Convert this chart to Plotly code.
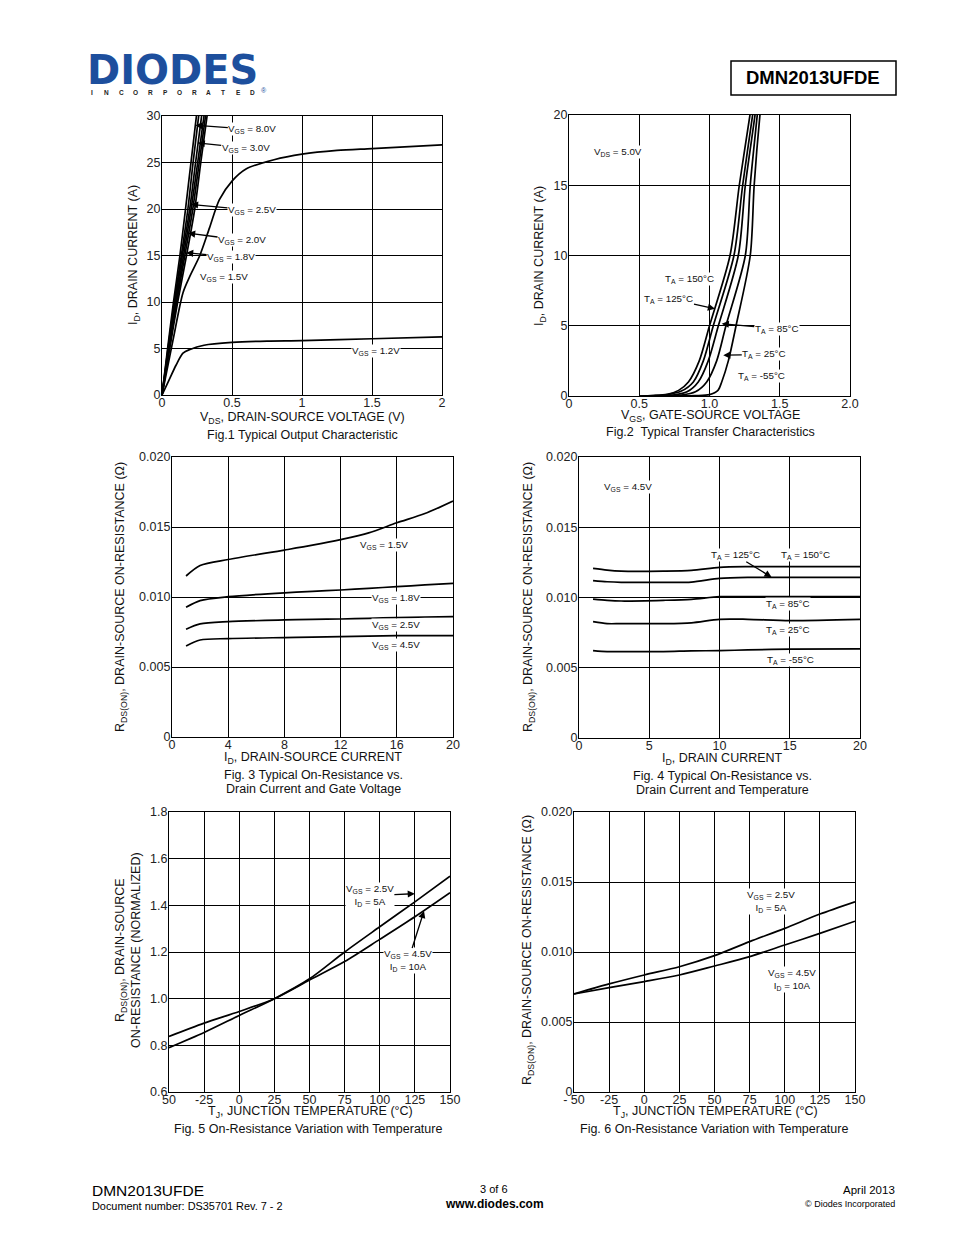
import plotly.graph_objects as go

W, H = 954, 1235
FONT = "Liberation Sans, Arial, sans-serif"
OFF = 8  # page body margin compensation (pixels)

# ---------------- data ----------------
# Fig.1 output characteristic
f1_i_steep = [0, 5, 10, 15, 20, 25, 30]
f1_v_8v0 = [0, 0.040, 0.082, 0.128, 0.168, 0.207, 0.246]
f1_v_4v5 = [0, 0.043, 0.088, 0.138, 0.185, 0.222, 0.262]
f1_v_3v0 = [0, 0.046, 0.093, 0.145, 0.198, 0.240, 0.283]
f1_v_2v5 = [0, 0.049, 0.099, 0.154, 0.208, 0.255, 0.300]
f1_v_2v0 = [0, 0.052, 0.105, 0.163, 0.220, 0.266, 0.311]
f1_v_1v8 = [0, 0.055, 0.112, 0.175, 0.234, 0.277, 0.322]
f1_v_1v5 = [0, 0.08, 0.15, 0.20, 0.27, 0.34, 0.41, 0.50, 0.60, 0.80, 1.00, 1.25, 1.50, 2.00]
f1_i_1v5 = [0, 6.0, 11.0, 12.8, 15.0, 18.0, 21.0, 23.0, 24.3, 25.3, 25.9, 26.3, 26.5, 26.9]
f1_v_1v2 = [0, 0.05, 0.10, 0.15, 0.20, 0.30, 0.50, 0.75, 1.00, 1.50, 2.00]
f1_i_1v2 = [0, 1.6, 3.2, 4.5, 4.9, 5.35, 5.65, 5.8, 5.85, 6.05, 6.25]

# Fig.2 transfer characteristic
f2_v_150 = [0.50, 0.60, 0.70, 0.78, 0.85, 0.927, 1.000, 1.146, 1.212, 1.288, 1.30]
f2_i_150 = [0, 0.03, 0.12, 0.40, 1.0, 2.5, 5, 10, 15, 20, 21]
f2_v_125 = [0.50, 0.60, 0.70, 0.80, 0.885, 0.956, 1.027, 1.174, 1.236, 1.307, 1.32]
f2_i_125 = [0, 0.02, 0.10, 0.35, 1.0, 2.5, 5, 10, 15, 20, 21]
f2_v_85 = [0.55, 0.65, 0.75, 0.84, 0.920, 0.991, 1.063, 1.205, 1.255, 1.324, 1.335]
f2_i_85 = [0, 0.02, 0.08, 0.30, 1.0, 2.5, 5, 10, 15, 20, 21]
f2_v_25 = [0.60, 0.70, 0.80, 0.90, 0.980, 1.051, 1.117, 1.255, 1.290, 1.340, 1.35]
f2_i_25 = [0, 0.02, 0.07, 0.30, 1.0, 2.5, 5, 10, 15, 20, 21]
f2_v_m55 = [0.70, 0.80, 0.90, 1.00, 1.06, 1.087, 1.134, 1.189, 1.290, 1.318, 1.359, 1.37]
f2_i_m55 = [0, 0.01, 0.03, 0.10, 0.40, 1.0, 2.5, 5, 10, 15, 20, 21]

# Fig.3 RDS(on) vs ID and VGS
f3_id = [1, 2, 4, 8, 10, 12, 14, 16, 18, 20]
f3_r_1v5 = [0.01150, 0.01225, 0.01268, 0.01335, 0.01370, 0.01410, 0.01458, 0.01530, 0.01596, 0.01686]
f3_r_1v8 = [0.00926, 0.00974, 0.01002, 0.01030, 0.01040, 0.01050, 0.01062, 0.01074, 0.01086, 0.01097]
f3_r_2v5 = [0.00770, 0.00808, 0.00824, 0.00836, 0.00840, 0.00843, 0.00848, 0.00853, 0.00857, 0.00860]
f3_r_4v5 = [0.00650, 0.00693, 0.00703, 0.00710, 0.00713, 0.00717, 0.00721, 0.00724, 0.00724, 0.00724]

# Fig.4 RDS(on) vs ID and temperature
f4_id = [1, 2, 3, 6, 8, 10, 12, 15, 20]
f4_r_150 = [0.01207, 0.01195, 0.01188, 0.01188, 0.01193, 0.01215, 0.01220, 0.01220, 0.01220]
f4_r_125 = [0.01120, 0.01112, 0.01108, 0.01108, 0.01110, 0.01136, 0.01143, 0.01143, 0.01143]
f4_r_85 = [0.00989, 0.00980, 0.00975, 0.00980, 0.00987, 0.01006, 0.01006, 0.01006, 0.01006]
f4_r_25 = [0.00828, 0.00814, 0.00814, 0.00814, 0.00820, 0.00845, 0.00845, 0.00836, 0.00845]
f4_r_m55 = [0.00622, 0.00615, 0.00615, 0.00615, 0.00620, 0.00622, 0.00627, 0.00632, 0.00634]

# Fig.5 normalized RDS(on) vs TJ
f5_t = [-50, -25, 0, 25, 50, 75, 100, 125, 150]
f5_n_2v5 = [0.790, 0.855, 0.928, 1.000, 1.085, 1.200, 1.308, 1.415, 1.525]
f5_n_4v5 = [0.838, 0.895, 0.945, 1.000, 1.080, 1.159, 1.254, 1.351, 1.454]

# Fig.6 RDS(on) vs TJ
f6_t = [-50, -25, 0, 25, 50, 75, 100, 125, 150]
f6_r_2v5 = [0.00700, 0.00772, 0.00836, 0.00895, 0.00974, 0.01074, 0.01169, 0.01271, 0.01359]
f6_r_4v5 = [0.00700, 0.00746, 0.00789, 0.00836, 0.00900, 0.00967, 0.01050, 0.01133, 0.01220]

# tick labels
f1_xt = [0, 0.5, 1, 1.5, 2]; f1_xl = ["0", "0.5", "1", "1.5", "2"]
f1_yt = [0, 5, 10, 15, 20, 25, 30]; f1_yl = ["0", "5", "10", "15", "20", "25", "30"]
f2_xt = [0, 0.5, 1.0, 1.5, 2.0]; f2_xl = ["0", "0.5", "1.0", "1.5", "2.0"]
f2_yt = [0, 5, 10, 15, 20]; f2_yl = ["0", "5", "10", "15", "20"]
f3_xt = [0, 4, 8, 12, 16, 20]; f3_xl = ["0", "4", "8", "12", "16", "20"]
r_yt = [0, 0.005, 0.010, 0.015, 0.020]; r_yl = ["0", "0.005", "0.010", "0.015", "0.020"]
f4_xt = [0, 5, 10, 15, 20]; f4_xl = ["0", "5", "10", "15", "20"]
t_xt = [-50, -25, 0, 25, 50, 75, 100, 125, 150]
f5_xl = ["50", "-25", "0", "25", "50", "75", "100", "125", "150"]
f6_xl = ["- 50", "-25", "0", "25", "50", "75", "100", "125", "150"]
f5_yt = [0.6, 0.8, 1.0, 1.2, 1.4, 1.6, 1.8]; f5_yl = ["0.6", "0.8", "1.0", "1.2", "1.4", "1.6", "1.8"]

# ---------------- figure ----------------
def px(x):
    return (x - OFF) / W


def py(y):
    return 1 - (y - OFF) / H


fig = go.Figure()

LW = 1.7


def add_line(x, y, n, shape="linear"):
    fig.add_trace(go.Scatter(x=x, y=y, mode="lines", xaxis="x%d" % n if n > 1 else "x",
                             yaxis="y%d" % n if n > 1 else "y",
                             line=dict(color="black", width=LW, shape=shape, smoothing=0.8),
                             showlegend=False, hoverinfo="skip"))


for v in [f1_v_8v0, f1_v_4v5, f1_v_3v0, f1_v_2v5, f1_v_2v0, f1_v_1v8]:
    add_line(v, f1_i_steep, 1, "spline")
add_line(f1_v_1v5, f1_i_1v5, 1, "spline")
add_line(f1_v_1v2, f1_i_1v2, 1, "spline")

for v, i in [(f2_v_150, f2_i_150), (f2_v_125, f2_i_125), (f2_v_85, f2_i_85),
             (f2_v_25, f2_i_25), (f2_v_m55, f2_i_m55)]:
    add_line(v, i, 2, "spline")

for r in [f3_r_1v5, f3_r_1v8, f3_r_2v5, f3_r_4v5]:
    add_line(f3_id, r, 3, "spline")

for r in [f4_r_150, f4_r_125, f4_r_85, f4_r_25, f4_r_m55]:
    add_line(f4_id, r, 4, "spline")

add_line(f5_t, f5_n_2v5, 5, "spline")
add_line(f5_t, f5_n_4v5, 5, "spline")
add_line(f6_t, f6_r_2v5, 6, "spline")
add_line(f6_t, f6_r_4v5, 6, "spline")

tickfont = dict(family=FONT, size=12.5, color="#222")


def axis(domain, rng, tv, tt, anchor, standoff):
    return dict(domain=domain, range=rng, tickvals=tv, ticktext=tt, anchor=anchor,
                showline=True, mirror=True, linecolor="black", linewidth=1.2,
                showgrid=True, gridcolor="black", gridwidth=1, zeroline=False,
                ticks="", tickfont=tickfont, automargin=False, ticklabelstandoff=standoff,
                fixedrange=True)


boxes = {
    1: (162, 442, 116, 395),
    2: (569, 850, 115, 396),
    3: (172, 453, 457, 737),
    4: (579, 860, 457, 738),
    5: (169, 450, 812, 1092),
    6: (574, 855, 812, 1092),
}
specs = {
    1: ([0, 2], f1_xt, f1_xl, [0, 30], f1_yt, f1_yl),
    2: ([0, 2], f2_xt, f2_xl, [0, 20], f2_yt, f2_yl),
    3: ([0, 20], f3_xt, f3_xl, [0, 0.020], r_yt, r_yl),
    4: ([0, 20], f4_xt, f4_xl, [0, 0.020], r_yt, r_yl),
    5: ([-50, 150], t_xt, f5_xl, [0.6, 1.8], f5_yt, f5_yl),
    6: ([-50, 150], t_xt, f6_xl, [0, 0.020], r_yt, r_yl),
}
lay = {}
for n, (x0, x1, y0, y1) in boxes.items():
    xr, xtv, xtt, yr, ytv, ytt = specs[n]
    sx = "" if n == 1 else str(n)
    lay["xaxis" + sx] = axis([px(x0), px(x1)], xr, xtv, xtt, "y" + sx, -4)
    lay["yaxis" + sx] = axis([py(y1), py(y0)], yr, ytv, ytt, "x" + sx, -2)

ann = []


def txt(x, y, s, size=12.5, angle=0, xanchor="center", bold=False, color="#111"):
    ann.append(dict(x=px(x), y=py(y), xref="paper", yref="paper", text=("<b>%s</b>" % s) if bold else s,
                    showarrow=False, textangle=angle, xanchor=xanchor, yanchor="middle",
                    font=dict(family=FONT, size=size, color=color)))


# axis titles & captions
txt(302, 418, "V<sub>DS</sub>, DRAIN-SOURCE VOLTAGE (V)")
txt(302, 435, "Fig.1 Typical Output Characteristic")
txt(134, 255, "I<sub>D</sub>, DRAIN CURRENT (A)", angle=-90)
txt(710, 416, "V<sub>GS</sub>, GATE-SOURCE VOLTAGE")
txt(710, 432, "Fig.2  Typical Transfer Characteristics")
txt(540, 256, "I<sub>D</sub>, DRAIN CURRENT (A)", angle=-90)
txt(313, 758, "I<sub>D</sub>, DRAIN-SOURCE CURRENT")
txt(313, 775, "Fig. 3 Typical On-Resistance vs.")
txt(313, 789, "Drain Current and Gate Voltage")
txt(121, 597, "R<sub>DS(ON)</sub>, DRAIN-SOURCE ON-RESISTANCE (Ω)", angle=-90)
txt(722, 759, "I<sub>D</sub>, DRAIN CURRENT")
txt(722, 776, "Fig. 4 Typical On-Resistance vs.")
txt(722, 790, "Drain Current and Temperature")
txt(529, 597, "R<sub>DS(ON)</sub>, DRAIN-SOURCE ON-RESISTANCE (Ω)", angle=-90)
txt(310, 1112, "T<sub>J</sub>, JUNCTION TEMPERATURE (°C)")
txt(308, 1129, "Fig. 5 On-Resistance Variation with Temperature")
txt(128, 950, "R<sub>DS(ON)</sub>, DRAIN-SOURCE<br>ON-RESISTANCE (NORMALIZED)", angle=-90)
txt(715, 1112, "T<sub>J</sub>, JUNCTION TEMPERATURE (°C)")
txt(714, 1129, "Fig. 6 On-Resistance Variation with Temperature")
txt(528, 950, "R<sub>DS(ON)</sub>, DRAIN-SOURCE ON-RESISTANCE (Ω)", angle=-90)

LS = 9.8


def lab(n, x, y, s, ax=None, ay=None):
    sx = "" if n == 1 else str(n)
    d = dict(x=x, y=y, xref="x" + sx, yref="y" + sx, text=s, bgcolor="white",
             font=dict(family=FONT, size=LS, color="#111"), borderpad=0)
    if ax is None:
        d.update(showarrow=False)
    else:
        d.update(showarrow=True, ax=ax, ay=ay, arrowhead=2, arrowsize=1.1, arrowwidth=1.3,
                 arrowcolor="black", standoff=0)
    ann.append(d)


# Fig1 labels
lab(1, 0.238, 29.0, "V<sub>GS</sub> = 8.0V", 57, 4)
lab(1, 0.255, 27.1, "V<sub>GS</sub> = 3.0V", 48, 5)
lab(1, 0.207, 20.5, "V<sub>GS</sub> = 2.5V", 61, 6)
lab(1, 0.186, 17.4, "V<sub>GS</sub> = 2.0V", 54, 7)
lab(1, 0.172, 15.3, "V<sub>GS</sub> = 1.8V", 45, 4)
lab(1, 0.443, 12.7, "V<sub>GS</sub> = 1.5V")
lab(1, 1.53, 4.7, "V<sub>GS</sub> = 1.2V")
# Fig2 labels
lab(2, 0.349, 17.37, "V<sub>DS</sub> = 5.0V")
lab(2, 0.861, 8.33, "T<sub>A</sub> = 150°C")
lab(2, 1.039, 6.21, "T<sub>A</sub> = 125°C", -46, -10)
lab(2, 1.087, 5.15, "T<sub>A</sub> = 85°C", 55, 5)
lab(2, 1.098, 2.90, "T<sub>A</sub> = 25°C", 41, -1)
lab(2, 1.367, 1.42, "T<sub>A</sub> = -55°C")
# Fig3 labels
lab(3, 15.1, 0.01371, "V<sub>GS</sub> = 1.5V")
lab(3, 15.94, 0.00993, "V<sub>GS</sub> = 1.8V")
lab(3, 15.94, 0.00800, "V<sub>GS</sub> = 2.5V")
lab(3, 15.94, 0.00657, "V<sub>GS</sub> = 4.5V")
# Fig4 labels
lab(4, 3.49, 0.01786, "V<sub>GS</sub> = 4.5V")
lab(4, 13.71, 0.01144, "T<sub>A</sub> = 125°C", -36, -22)
lab(4, 16.09, 0.01300, "T<sub>A</sub> = 150°C")
lab(4, 14.88, 0.00954, "T<sub>A</sub> = 85°C")
lab(4, 14.88, 0.00769, "T<sub>A</sub> = 25°C")
lab(4, 15.02, 0.00555, "T<sub>A</sub> = -55°C")
# Fig5 labels
lab(5, 125, 1.45, "V<sub>GS</sub> = 2.5V<br>I<sub>D</sub> = 5A", -45, 2)
lab(5, 131.5, 1.376, "V<sub>GS</sub> = 4.5V<br>I<sub>D</sub> = 10A", -16, 50)
# Fig6 labels
lab(6, 90.2, 0.01364, "V<sub>GS</sub> = 2.5V<br>I<sub>D</sub> = 5A")
lab(6, 105.2, 0.00800, "V<sub>GS</sub> = 4.5V<br>I<sub>D</sub> = 10A")

# header logo
BLUE = "#1d4f9d"
ann.append(dict(x=px(85), y=py(70), xref="paper", yref="paper", text="<b>DIODES</b>", showarrow=False,
                xanchor="left", yanchor="middle", font=dict(family="DejaVu Sans, sans-serif", size=40, color=BLUE)))
logo_letters = ["I", "N", "C", "O", "R", "P", "O", "R", "A", "T", "E", "D"]
for k, ch in enumerate(logo_letters):
    ann.append(dict(x=px(92 + k * 14.6), y=py(92), xref="paper", yref="paper", text="<b>%s</b>" % ch,
                    showarrow=False, xanchor="center", yanchor="middle",
                    font=dict(family=FONT, size=6.5, color="#222")))
ann.append(dict(x=px(259), y=py(85), xref="paper", yref="paper", text="®", showarrow=False,
                font=dict(family=FONT, size=7, color=BLUE)))

# part number box
txt(813, 78, "DMN2013UFDE", size=18.5, bold=True, color="black")

# footer
txt(90, 1190, "DMN2013UFDE", size=15.5, xanchor="left", color="black")
txt(90, 1206, "Document number: DS35701 Rev. 7 - 2", size=10.9, xanchor="left", color="black")
txt(494, 1189, "3 of 6", size=11, color="black")
txt(494, 1204, "www.diodes.com", size=12, bold=True, color="black")
txt(897, 1190, "April 2013", size=11.5, xanchor="right", color="black")
txt(897, 1204, "© Diodes Incorporated", size=9, xanchor="right", color="black")

shapes = [dict(type="rect", xref="paper", yref="paper", x0=px(731), x1=px(896), y0=py(95), y1=py(61),
               line=dict(color="black", width=1.5))]

fig.update_layout(width=W, height=H, margin=dict(l=0, r=0, t=0, b=0, pad=0), paper_bgcolor="white",
                  plot_bgcolor="white", annotations=ann, shapes=shapes, showlegend=False, **lay)

fig.write_html("out.html", config={"displayModeBar": False})
